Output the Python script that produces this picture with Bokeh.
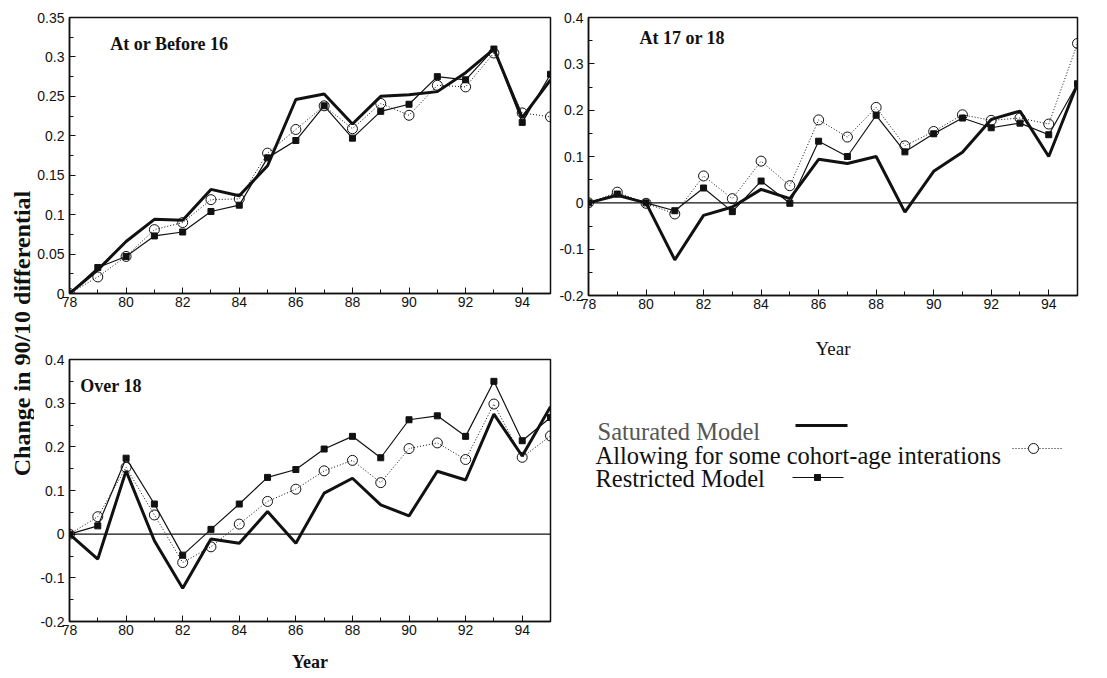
import math
from bokeh.plotting import figure
from bokeh.layouts import row, column
from bokeh.models import FixedTicker, Span, Range1d, Label
from bokeh.core.properties import value
from bokeh.embed import file_html
from bokeh.resources import INLINE

years = list(range(78, 96))
x_major = [78, 80, 82, 84, 86, 88, 90, 92, 94]
x_minor = [79, 81, 83, 85, 87, 89, 91, 93, 95]
x_labels = ["78", "80", "82", "84", "86", "88", "90", "92", "94"]

# Panel 1: At or Before 16
b16_saturated = [0.0, 0.030, 0.066, 0.094, 0.093, 0.132, 0.124, 0.162, 0.246, 0.253,
                 0.215, 0.250, 0.252, 0.256, 0.280, 0.310, 0.223, 0.271]
b16_allowing = [0.0, 0.021, 0.047, 0.081, 0.090, 0.119, 0.120, 0.178, 0.208, 0.238,
                0.209, 0.241, 0.226, 0.264, 0.262, 0.305, 0.229, 0.224]
b16_restricted = [0.0, 0.033, 0.047, 0.073, 0.078, 0.104, 0.112, 0.172, 0.194, 0.238,
                  0.197, 0.231, 0.240, 0.275, 0.271, 0.310, 0.217, 0.278]

# Panel 2: At 17 or 18
a17_saturated = [0.0, 0.016, 0.0, -0.123, -0.027, -0.009, 0.029, 0.009, 0.094, 0.085,
                 0.100, -0.020, 0.068, 0.109, 0.180, 0.198, 0.100, 0.257]
a17_allowing = [0.0, 0.023, -0.001, -0.024, 0.058, 0.009, 0.090, 0.037, 0.179, 0.142,
                0.206, 0.123, 0.154, 0.190, 0.178, 0.183, 0.170, 0.344]
a17_restricted = [0.0, 0.019, 0.0, -0.017, 0.032, -0.019, 0.047, -0.001, 0.133, 0.100,
                  0.189, 0.110, 0.149, 0.183, 0.162, 0.172, 0.147, 0.257]

# Panel 3: Over 18
o18_saturated = [0.0, -0.057, 0.145, -0.015, -0.124, -0.011, -0.021, 0.052, -0.021, 0.094,
                 0.128, 0.067, 0.042, 0.144, 0.124, 0.275, 0.179, 0.292]
o18_allowing = [0.0, 0.040, 0.153, 0.044, -0.065, -0.029, 0.023, 0.075, 0.103, 0.145,
                0.169, 0.118, 0.196, 0.209, 0.171, 0.298, 0.176, 0.225]
o18_restricted = [0.0, 0.019, 0.174, 0.069, -0.048, 0.011, 0.069, 0.130, 0.148, 0.195,
                  0.224, 0.175, 0.262, 0.271, 0.224, 0.350, 0.214, 0.267]

y1_ticks = [0, 0.05, 0.1, 0.15, 0.2, 0.25, 0.3, 0.35]
y1_labels = ["0", "0.05", "0.1", "0.15", "0.2", "0.25", "0.3", "0.35"]
y1_minor = [0.025, 0.075, 0.125, 0.175, 0.225, 0.275, 0.325]
y2_ticks = [-0.2, -0.1, 0, 0.1, 0.2, 0.3, 0.4]
y2_labels = ["-0.2", "-0.1", "0", "0.1", "0.2", "0.3", "0.4"]
y2_minor = [-0.15, -0.05, 0.05, 0.15, 0.25, 0.35]

legend_labels = ["Saturated Model", "Allowing for some cohort-age interations", "Restricted Model"]
y_title = "Change in 90/10 differential"

SANS = "Liberation Sans"
SERIF = "Liberation Serif"
INK = "#111111"


def make_panel(width, height, mb_left, mb_right, mb_top, mb_bottom, yr, yt, yl, ym,
               title, tx, ty, zero_line, xlabel=None, xlabel_bold=False,
               xlabel_size="19px", xlabel_standoff=20):
    p = figure(width=width, height=height, output_backend="svg", toolbar_location=None,
               x_range=Range1d(78, 95), y_range=Range1d(*yr),
               min_border_left=mb_left, min_border_right=mb_right,
               min_border_top=mb_top, min_border_bottom=mb_bottom)
    p.grid.visible = False
    p.background_fill_color = "white"
    p.border_fill_color = "white"
    p.outline_line_color = INK
    p.outline_line_width = 1.5
    p.outline_line_alpha = 1.0

    p.xaxis.ticker = FixedTicker(ticks=x_major, minor_ticks=x_minor)
    p.xaxis.major_label_overrides = {t: s for t, s in zip(x_major, x_labels)}
    p.yaxis.ticker = FixedTicker(ticks=yt, minor_ticks=ym)
    p.yaxis.major_label_overrides = {t: s for t, s in zip(yt, yl)}
    for ax in (p.xaxis, p.yaxis):
        ax.major_tick_in = 6
        ax.major_tick_out = 0
        ax.minor_tick_in = 4
        ax.minor_tick_out = 0
        ax.axis_line_color = INK
        ax.axis_line_width = 1.5
        ax.major_tick_line_color = INK
        ax.minor_tick_line_color = INK
        ax.major_label_text_font = SANS
        ax.major_label_text_font_size = "14px"
        ax.major_label_text_color = INK
    p.xaxis.major_label_standoff = 3
    p.yaxis.major_label_standoff = 5
    if xlabel:
        p.xaxis.axis_label = xlabel
        p.xaxis.axis_label_text_font = SERIF
        p.xaxis.axis_label_text_font_size = xlabel_size
        p.xaxis.axis_label_text_font_style = "bold" if xlabel_bold else "normal"
        p.xaxis.axis_label_text_color = INK
        p.xaxis.axis_label_standoff = xlabel_standoff

    if zero_line:
        p.add_layout(Span(location=0, dimension="width", line_color=INK, line_width=1.2))

    p.add_layout(Label(x=tx, y=ty, text=title, text_font=SERIF, text_font_size="18px",
                       text_font_style="bold", text_color=INK, text_baseline="alphabetic"))
    return p


def add_series(p, sat, allow, restr):
    p.line(years, allow, line_color=INK, line_width=1, line_dash="1 2")
    p.scatter(years, allow, marker="circle", size=10, fill_color=None,
              line_color=INK, line_width=1)
    p.line(years, restr, line_color=INK, line_width=1.2)
    p.scatter(years, restr, marker="square", size=6, fill_color=INK, line_color=INK)
    p.line(years, sat, line_color=INK, line_width=3)


# left label column
lab = figure(width=34, height=678, output_backend="svg", toolbar_location=None,
             x_range=Range1d(0, 34), y_range=Range1d(0, 678),
             min_border=0)
lab.axis.visible = False
lab.grid.visible = False
lab.outline_line_color = None
lab.add_layout(Label(x=21, y=678 - 333, text=y_title, angle=math.pi / 2,
                     text_font=SERIF, text_font_size="24px", text_font_style="bold",
                     text_color=INK, text_align="center", text_baseline="middle"))

p1 = make_panel(519, 340, 33, 3, 17, 47, (0, 0.35), y1_ticks, y1_labels, y1_minor,
                "At or Before 16", 79.44, 0.317, False)
add_series(p1, b16_saturated, b16_allowing, b16_restricted)

p3 = make_panel(519, 338, 33, 1, 19, 57, (-0.2, 0.4), y2_ticks, y2_labels, y2_minor,
                "Over 18", 78.38, 0.340, True, xlabel="Year", xlabel_bold=True,
                xlabel_size="18px", xlabel_standoff=14)
add_series(p3, o18_saturated, o18_allowing, o18_restricted)

p2 = make_panel(554, 370, 35, 30, 17, 75, (-0.2, 0.4), y2_ticks, y2_labels, y2_minor,
                "At 17 or 18", 79.77, 0.355, True, xlabel="Year", xlabel_bold=False,
                xlabel_size="19px", xlabel_standoff=26)
add_series(p2, a17_saturated, a17_allowing, a17_restricted)

# legend panel: its frame is aligned with p2's frame (page x 588..1077),
# data units equal page pixels; y measured from the top of the page.
leg = figure(width=554, height=308, output_backend="svg", toolbar_location=None,
             x_range=Range1d(588, 1077), y_range=Range1d(0, 308),
             min_border_left=35, min_border_right=30, min_border_top=0, min_border_bottom=0)
leg.axis.visible = False
leg.grid.visible = False
leg.outline_line_color = None


def py(y):
    return 678 - y


LEG_FS = "24.5px"
leg.text(x=[597], y=[py(431)], text=[legend_labels[0]], text_font=value(SERIF),
         text_font_size=LEG_FS, text_color="#555555", text_baseline="alphabetic")
leg.text(x=[595], y=[py(455)], text=[legend_labels[1]], text_font=value(SERIF),
         text_font_size=LEG_FS, text_color=INK, text_baseline="alphabetic")
leg.text(x=[595], y=[py(478)], text=[legend_labels[2]], text_font=value(SERIF),
         text_font_size=LEG_FS, text_color=INK, text_baseline="alphabetic")
leg.line([795, 847], [py(425), py(425)], line_color=INK, line_width=3)
leg.line([1012, 1063], [py(448), py(448)], line_color=INK, line_width=1, line_dash="1 2")
leg.scatter([1033], [py(448)], marker="circle", size=10, fill_color="white",
            line_color=INK, line_width=1)
leg.line([792, 843], [py(477), py(477)], line_color=INK, line_width=1.2)
leg.scatter([817], [py(477)], marker="square", size=6, fill_color=INK, line_color=INK)

layout = row(lab, column(p1, p3), column(p2, leg))

open("out.html", "w").write(file_html(layout, INLINE))
